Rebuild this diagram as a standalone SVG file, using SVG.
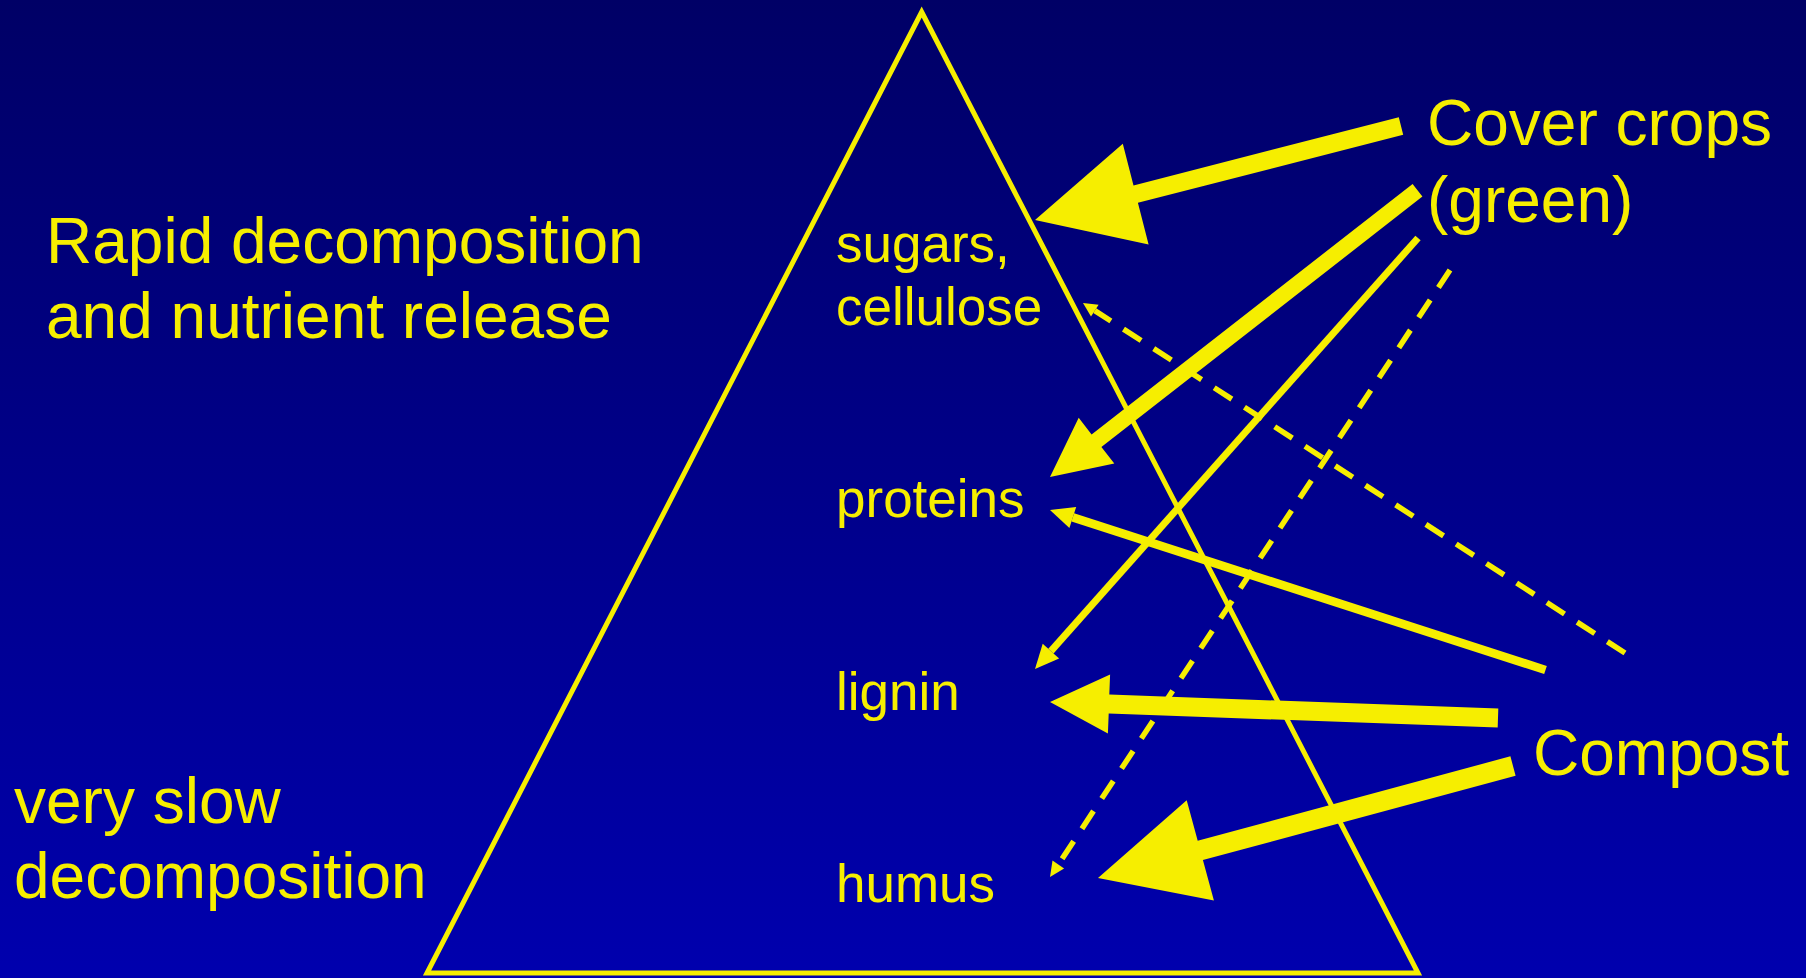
<svg xmlns="http://www.w3.org/2000/svg" width="1806" height="978" viewBox="0 0 1806 978">
  <defs>
    <linearGradient id="bg" x1="0" y1="0" x2="0" y2="1">
      <stop offset="0" stop-color="#000066"/>
      <stop offset="1" stop-color="#0000AE"/>
    </linearGradient>
  </defs>
  <style>
    .t { font-family: "Liberation Sans", Arial, sans-serif; fill: #F6EE00; }
    .big { font-size: 64px; }
    .mid { font-size: 53px; }
    .fill { fill: #F6EE00; stroke: none; }
    .ln { stroke: #F6EE00; fill: none; stroke-linecap: butt; }
    .dash { stroke: #F6EE00; fill: none; stroke-width: 5.5; stroke-dasharray: 21 15; }
  </style>
  <rect x="0" y="0" width="1806" height="978" fill="url(#bg)"/>

  <g id="pyramid">
    <polygon points="921.7,12 427,973 1418,973" fill="none" stroke="#F6EE00" stroke-width="5" stroke-linejoin="miter"/>
  </g>

  <g id="label-rapid">
    <text class="t big" x="46" y="263">Rapid decomposition</text>
    <text class="t big" x="46" y="338">and nutrient release</text>
  </g>
  <g id="label-slow">
    <text class="t big" x="14" y="823">very slow</text>
    <text class="t big" x="14" y="898">decomposition</text>
  </g>
  <g id="node-sugars">
    <text class="t mid" x="836" y="262">sugars,</text>
    <text class="t mid" x="836" y="325">cellulose</text>
  </g>
  <g id="node-proteins">
    <text class="t mid" x="836" y="517">proteins</text>
  </g>
  <g id="node-lignin">
    <text class="t mid" x="836" y="710">lignin</text>
  </g>
  <g id="node-humus">
    <text class="t mid" x="836" y="902">humus</text>
  </g>
  <g id="node-cover">
    <text class="t big" x="1427" y="145">Cover crops</text>
    <text class="t big" x="1427" y="222">(green)</text>
  </g>
  <g id="node-compost">
    <text class="t big" x="1533" y="775">Compost</text>
  </g>

  <g id="connectors">
    <!-- Cover crops -> sugars (thick) -->
    <polygon class="fill" points="1398.8,117.3 1133.5,185.4 1122.8,143.7 1035,220 1148.6,244.5 1137.9,202.8 1403.2,134.7"/>
    <!-- Cover crops -> proteins (thick) -->
    <polygon class="fill" points="1412.6,184.0 1091.6,434.4 1078.7,417.8 1050,477 1114.3,463.6 1101.4,447.0 1422.4,196.6"/>
    <!-- Cover crops -> lignin (thin) -->
    <line class="ln" x1="1418" y1="238" x2="1050.9" y2="651.1" stroke-width="7"/>
    <polygon class="fill" points="1035,669 1059.1,658.4 1042.7,643.8"/>
    <!-- Cover crops -> humus (dashed) -->
    <line class="dash" x1="1450" y1="270" x2="1058.3" y2="864.5"/>
    <polygon class="fill" points="1050,877 1064.1,868.4 1052.5,860.6"/>
    <!-- Compost -> sugars (dashed) -->
    <line class="dash" x1="1625" y1="653" x2="1094.8" y2="310.6"/>
    <polygon class="fill" points="1083,303 1098.6,304.7 1091.0,316.5"/>
    <!-- Compost -> proteins (medium) -->
    <line class="ln" x1="1545.5" y1="670" x2="1072.8" y2="517.4" stroke-width="8.5"/>
    <polygon class="fill" points="1050,510 1076.2,506.9 1069.4,527.9"/>
    <!-- Compost -> lignin (thick) -->
    <polygon class="fill" points="1498.3,708.5 1109.3,694.6 1110.1,674.6 1050,702 1107.9,733.6 1108.7,713.6 1497.7,727.5"/>
    <!-- Compost -> humus (thick) -->
    <polygon class="fill" points="1510.4,756.3 1197.7,840.7 1186.7,800.2 1098,878 1213.9,900.6 1202.9,860.1 1515.6,775.7"/>
  </g>
</svg>
